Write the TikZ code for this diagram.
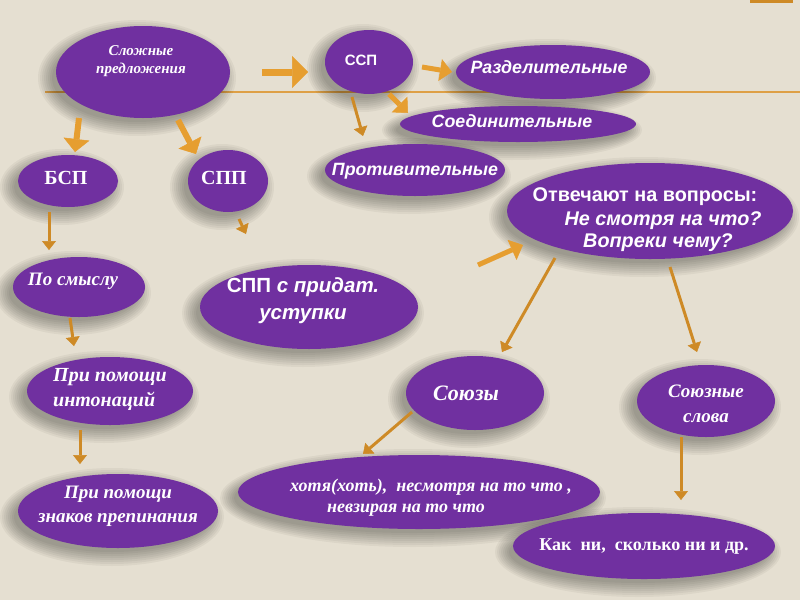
\documentclass[tikz,border=0pt]{standalone}
\usepackage{fontspec}
\setmainfont{Liberation Serif}
\newfontfamily\sns{Liberation Sans}
\usetikzlibrary{shapes.geometric,arrows.meta,calc}
\definecolor{bg}{RGB}{229,223,209}
\definecolor{vio}{RGB}{112,48,160}
\definecolor{org}{RGB}{230,158,48}
\definecolor{orb}{RGB}{206,138,38}
\definecolor{orl}{RGB}{222,160,70}
\tikzset{
  ell/.style={ellipse, fill=vio, inner sep=0pt},
  shd/.style={fill=black, opacity=0.045},
  txt/.style={text=white, inner sep=0pt, align=center},
  serif/.style={font=\bfseries\itshape\fontsize{#1}{#1}\selectfont},
  arrbig/.style={draw=org, line width=7pt, -{Triangle[width=32pt,length=16pt,line width=0.5pt]}},
  arrmid/.style={draw=org, line width=6pt, -{Triangle[width=26pt,length=13pt,line width=0.5pt]}},
  arrsm/.style={draw=org, line width=5pt, -{Triangle[width=22pt,length=12pt,line width=0.5pt]}},
  arrthin/.style={draw=orb, line width=3pt, -{Triangle[width=14pt,length=9pt,line width=0.5pt]}},
}
% name, x, y, width, height
\newcommand\ellnode[5]{%
  \foreach \k in {0,...,7}{%
    \fill[shd] ({#2-6},{#3+6}) ellipse [x radius={#4/2+12-2*\k}, y radius={#5/2+12-2*\k}];}%
  \node[ell, minimum width=#4pt, minimum height=#5pt] (#1) at (#2,#3) {};}
\begin{document}
\begin{tikzpicture}[x=1pt,y=-1pt]
\fill[bg] (0,0) rectangle (800,600);
\useasboundingbox (0,0) rectangle (800,600);
\draw[orl, line width=1.5pt] (45,92) -- (800,92);
\fill[orb] (750,0) rectangle (793,3);

% ellipses
\ellnode{slozh}{143}{72}{174}{92}
\ellnode{ssp}{369}{62}{88}{64}
\ellnode{razd}{553}{72}{194}{54}
\ellnode{soed}{518}{124}{236}{36}
\ellnode{prot}{415}{170}{180}{52}
\ellnode{otv}{650}{211}{286}{96}
\ellnode{bsp}{68}{181}{100}{52}
\ellnode{spp}{228}{181}{80}{62}
\ellnode{smysl}{79}{287}{132}{60}
\ellnode{ustup}{309}{307}{218}{84}
\ellnode{inton}{110}{391}{166}{68}
\ellnode{znak}{118}{511}{200}{74}
\ellnode{souz}{475}{393}{138}{74}
\ellnode{sslova}{706}{401}{138}{72}
\ellnode{hotya}{419}{492}{362}{74}
\ellnode{kakni}{644}{546}{262}{66}

% texts
\node[txt, font=\bfseries\itshape\fontsize{15}{18}\selectfont] (t1) at (141,61) {Сложные\\предложения};
\node[txt, font=\sns\bfseries\fontsize{15}{15}\selectfont] (t2) at (361,60) {ССП};
\node[txt, font=\sns\bfseries\itshape\fontsize{17.8}{17.8}\selectfont] (t3) at (549,67) {Разделительные};
\node[txt, font=\sns\bfseries\itshape\fontsize{17.8}{17.8}\selectfont] (t4) at (512,121) {Соединительные};
\node[txt, font=\sns\bfseries\itshape\fontsize{17.8}{17.8}\selectfont] (t5) at (415,171) {Противительные};
\node[txt, font=\sns\bfseries\fontsize{19.8}{19.8}\selectfont] (t6a) at (645,197) {Отвечают на вопросы:};
\node[txt, font=\sns\bfseries\itshape\fontsize{19.8}{19.8}\selectfont] (t6b) at (663,221) {Не смотря на что?};
\node[txt, font=\sns\bfseries\itshape\fontsize{19.8}{19.8}\selectfont] (t6c) at (658,243) {Вопреки чему?};
\node[txt, font=\bfseries\fontsize{20}{20}\selectfont] (t7) at (66,178) {БСП};
\node[txt, font=\bfseries\fontsize{20}{20}\selectfont] (t8) at (224,178) {СПП};
\node[txt, serif=19] (t9) at (73,281) {По смыслу};
\node[txt, font=\sns\bfseries\fontsize{20.5}{27}\selectfont] (t10) at (303,301) {СПП \textit{с придат.}\\\textit{уступки}};
\node[txt, align=left, anchor=west, font=\bfseries\itshape\fontsize{20}{25}\selectfont] (t11) at (53,389) {При помощи\\интонаций};
\node[txt, font=\bfseries\itshape\fontsize{19}{24}\selectfont] (t12) at (118,506) {При помощи\\знаков препинания};
\node[txt, serif=22] (t13) at (466,393) {Союзы};
\node[txt, font=\bfseries\itshape\fontsize{19}{25}\selectfont] (t14) at (706,404) {Союзные\\слова};
\node[txt, serif=18] (t15a) at (431,487) {хотя(хоть),\ \ несмотря на то что ,};
\node[txt, serif=18] (t15b) at (406,510) {невзирая на то что};
\node[txt, font=\bfseries\fontsize{18}{18}\selectfont] (t16) at (644,547) {Как\ \ ни,\ \ сколько ни и др.};

% arrows
\draw[arrbig] ($(slozh)+(119,0)$) -- ($(ssp)+(-61,10)$);
\draw[arrsm] ($(ssp)+(53,5)$) -- ($(razd)+(-101,0)$);
\draw[arrsm] ($(ssp)+(20,32)$) -- ($(soed)+(-110,-11)$);
\draw[arrthin] ($(ssp)+(-17,35)$) -- ($(prot)+(-52,-34)$);
\draw[arrmid] ($(slozh)+(-64,46)$) -- ($(bsp)+(7,-29)$);
\draw[arrmid] ($(slozh)+(35,48)$) -- ($(spp)+(-32,-27)$);
\draw[arrthin] ($(bsp)+(-19,31)$) -- ($(smysl)+(-30,-37)$);
\draw[arrthin] ($(spp)+(11,38)$) -- ($(ustup)+(-63,-73)$);
\draw[arrthin] ($(smysl)+(-9,31)$) -- ($(inton)+(-36,-45)$);
\draw[arrthin] ($(inton)+(-30,39)$) -- ($(znak)+(-38,-47)$);
\draw[arrsm] ($(ustup)+(169,-42)$) -- ($(otv)+(-127,34)$);
\draw[arrthin] ($(otv)+(-95,47)$) -- ($(souz)+(27,-41)$);
\draw[arrthin] ($(otv)+(20,56)$) -- ($(sslova)+(-9,-49)$);
\draw[arrthin] ($(souz)+(-63,19)$) -- ($(hotya)+(-56,-38)$);
\draw[arrthin] ($(sslova)+(-25,36)$) -- ($(kakni)+(37,-46)$);
\end{tikzpicture}
\end{document}
